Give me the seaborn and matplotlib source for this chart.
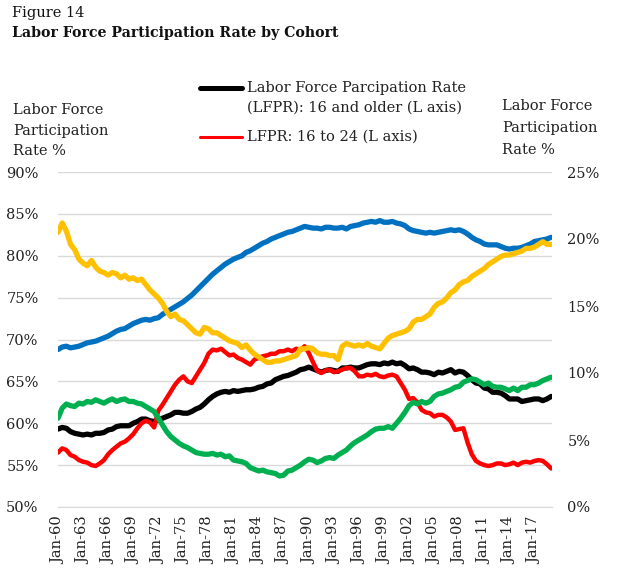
import numpy as np
import pandas as pd
import matplotlib.pyplot as plt
from matplotlib.lines import Line2D
import seaborn as sns

# semiannual observations, Jan-1960 .. Jan-2019
dates = np.arange(1960, 2019.01, 0.5)

# LFPR 16 and older (left axis)
lfpr_16_older = [
    59.3, 59.5, 59.4, 59.0, 58.8, 58.7, 58.6, 58.7, 58.6, 58.8, 58.8, 58.9, 59.2, 59.3, 59.6, 59.7, 59.7, 59.7, 60.0, 60.2,
    60.5, 60.5, 60.3, 60.2, 60.4, 60.6, 60.8, 61.0, 61.3, 61.3, 61.2, 61.2, 61.4, 61.7, 61.9, 62.3, 62.8, 63.2, 63.5, 63.7,
    63.8, 63.7, 63.9, 63.8, 63.9, 64.0, 64.0, 64.1, 64.3, 64.4, 64.7, 64.8, 65.2, 65.4, 65.6, 65.7, 65.9, 66.1, 66.4, 66.5,
    66.7, 66.5, 66.3, 66.1, 66.3, 66.4, 66.3, 66.2, 66.6, 66.6, 66.7, 66.6, 66.6, 66.8, 67.0, 67.1, 67.1, 67.0, 67.2, 67.1,
    67.3, 67.1, 67.2, 66.9, 66.5, 66.6, 66.4, 66.1, 66.1, 66.0, 65.8, 66.1, 66.0, 66.2, 66.4, 66.0, 66.2, 66.1, 65.7, 65.2,
    64.8, 64.7, 64.2, 64.1, 63.7, 63.7, 63.6, 63.3, 62.9, 62.9, 62.9, 62.6, 62.7, 62.8, 62.9, 62.9, 62.7, 62.9, 63.2,
]

# LFPR 16 to 24 (left axis)
lfpr_16_24 = [
    56.5, 57.0, 56.8, 56.2, 56.0, 55.6, 55.4, 55.3, 55.0, 54.9, 55.2, 55.6, 56.3, 56.8, 57.2, 57.6, 57.8, 58.2, 58.7, 59.4,
    60.0, 60.3, 60.1, 59.5, 61.5, 62.2, 63.0, 63.8, 64.6, 65.2, 65.6, 65.0, 64.8, 65.6, 66.4, 67.2, 68.3, 68.8, 68.7, 68.9,
    68.5, 68.1, 68.2, 67.8, 67.6, 67.3, 67.0, 67.6, 67.8, 68.0, 68.1, 68.3, 68.3, 68.6, 68.6, 68.8, 68.6, 68.9, 68.7, 69.2,
    68.4, 67.3, 66.3, 66.0, 66.3, 66.4, 66.1, 66.2, 66.4, 66.6, 66.6, 66.2, 65.6, 65.6, 65.8, 65.7, 65.9, 65.6, 65.5, 65.7,
    65.8, 65.6, 64.8, 64.0, 62.9, 63.0, 62.5, 61.6, 61.3, 61.2, 60.8, 61.0, 61.0, 60.7, 60.2, 59.2, 59.3, 59.4, 57.7, 56.3,
    55.5, 55.2, 55.0, 54.9, 55.0, 55.2, 55.2, 55.0, 55.1, 55.3, 55.0, 55.3, 55.4, 55.3, 55.5, 55.6, 55.5, 55.1, 54.6,
]

# LFPR 25 to 54 (left axis)
lfpr_25_54 = [
    68.8, 69.1, 69.2, 69.0, 69.1, 69.2, 69.4, 69.6, 69.7, 69.8, 70.0, 70.2, 70.4, 70.7, 71.0, 71.2, 71.3, 71.6, 71.9, 72.1,
    72.3, 72.4, 72.3, 72.5, 72.6, 73.0, 73.3, 73.6, 73.9, 74.2, 74.5, 74.9, 75.3, 75.8, 76.3, 76.8, 77.3, 77.8, 78.2, 78.6,
    79.0, 79.3, 79.6, 79.8, 80.0, 80.4, 80.6, 80.9, 81.2, 81.5, 81.7, 82.0, 82.2, 82.4, 82.6, 82.8, 82.9, 83.1, 83.3, 83.5,
    83.4, 83.3, 83.3, 83.2, 83.4, 83.4, 83.3, 83.3, 83.4, 83.2, 83.5, 83.6, 83.7, 83.9, 84.0, 84.1, 84.0, 84.2, 84.0, 84.0,
    84.1, 83.9, 83.8, 83.6, 83.2, 83.0, 82.9, 82.8, 82.7, 82.8, 82.7, 82.8, 82.9, 83.0, 83.1, 83.0, 83.1, 82.9, 82.6, 82.2,
    81.9, 81.7, 81.4, 81.3, 81.3, 81.3, 81.1, 80.9, 80.8, 80.9, 80.9, 81.0, 81.2, 81.4, 81.7, 81.8, 81.9, 82.0, 82.2,
]

# LFPR 55 to 64 (left axis)
lfpr_55_64 = [
    60.6, 61.8, 62.3, 62.1, 62.0, 62.4, 62.3, 62.6, 62.5, 62.8, 62.6, 62.4, 62.7, 62.9, 62.6, 62.8, 62.9, 62.6, 62.6, 62.4,
    62.3, 62.0, 61.7, 61.4, 60.6, 59.8, 59.0, 58.4, 58.0, 57.6, 57.3, 57.1, 56.8, 56.5, 56.4, 56.3, 56.3, 56.4, 56.2, 56.3,
    56.0, 56.1, 55.6, 55.5, 55.4, 55.2, 54.7, 54.5, 54.3, 54.4, 54.2, 54.1, 54.0, 53.7, 53.8, 54.3, 54.4, 54.7, 55.0, 55.4,
    55.7, 55.6, 55.3, 55.5, 55.8, 55.9, 55.8, 56.2, 56.5, 56.8, 57.3, 57.7, 58.0, 58.3, 58.6, 59.0, 59.3, 59.4, 59.4, 59.6,
    59.4, 60.0, 60.6, 61.3, 62.1, 62.5, 62.3, 62.6, 62.4, 62.6, 63.2, 63.5, 63.6, 63.8, 64.0, 64.3, 64.4, 64.9, 65.1, 65.3,
    65.2, 64.9, 64.6, 64.8, 64.4, 64.3, 64.3, 64.1, 63.9, 64.2, 63.9, 64.3, 64.3, 64.6, 64.6, 64.8, 65.1, 65.3, 65.5,
]

# LFPR 65 and older (right axis)
lfpr_65_older = [
    20.5, 21.2, 20.6, 19.6, 19.2, 18.5, 18.2, 18.0, 18.4, 17.9, 17.6, 17.5, 17.3, 17.5, 17.4, 17.1, 17.3, 17.0, 17.1, 16.9,
    17.0, 16.6, 16.2, 15.9, 15.6, 15.2, 14.6, 14.2, 14.4, 14.0, 13.9, 13.6, 13.3, 13.0, 12.9, 13.4, 13.3, 13.0, 13.0, 12.8,
    12.6, 12.4, 12.3, 12.2, 11.9, 12.1, 11.7, 11.4, 11.2, 11.0, 10.8, 10.8, 10.9, 10.9, 11.0, 11.1, 11.2, 11.3, 11.8, 11.8,
    11.9, 11.8, 11.5, 11.4, 11.4, 11.3, 11.3, 11.0, 12.0, 12.2, 12.1, 12.0, 12.1, 12.0, 12.2, 12.0, 11.9, 11.8, 12.2, 12.6,
    12.8, 12.9, 13.0, 13.1, 13.3, 13.8, 14.0, 14.0, 14.2, 14.4, 14.9, 15.2, 15.3, 15.6, 16.0, 16.2, 16.6, 16.8, 16.9, 17.2,
    17.4, 17.6, 17.8, 18.1, 18.3, 18.5, 18.7, 18.8, 18.8, 18.9, 19.0, 19.1, 19.3, 19.3, 19.4, 19.6, 19.8, 19.6, 19.6,
]

tick_years = list(range(1960, 2018, 3))
tick_labels = [f"Jan-{y % 100:02d}" for y in tick_years]
left_ticks = [50, 55, 60, 65, 70, 75, 80, 85, 90]
right_ticks = [0, 5, 10, 15, 20, 25]

df = pd.DataFrame({
    "date": dates,
    "all": lfpr_16_older,
    "young": lfpr_16_24,
    "prime": lfpr_25_54,
    "older": lfpr_55_64,
    "senior": lfpr_65_older,
})

sns.set_style("white")
plt.rcParams["font.family"] = ["DejaVu Serif"]
FS = 10.5
GRID = "#d9d9d9"

W, H = 618, 569
fig = plt.figure(figsize=(W / 100, H / 100), dpi=100)
ax = fig.add_axes([58 / W, 62 / H, 494 / W, 335 / H])

# left axis series, drawn in excel series order
sns.lineplot(data=df, x="date", y="all", color="black", lw=3.8, ax=ax)
sns.lineplot(data=df, x="date", y="young", color="#ff0000", lw=3.2, ax=ax)
sns.lineplot(data=df, x="date", y="prime", color="#0070c0", lw=3.8, ax=ax)
sns.lineplot(data=df, x="date", y="older", color="#00b050", lw=3.8, ax=ax)

ax2 = ax.twinx()
sns.lineplot(data=df, x="date", y="senior", color="#ffc000", lw=3.8, ax=ax2)

ax.set_xlim(1960, 2019.1)
ax.set_ylim(50, 90)
ax2.set_ylim(0, 25)

ax.set_yticks(left_ticks)
ax.set_yticklabels([f"{v}%" for v in left_ticks], fontsize=FS, color="#222222")
ax2.set_yticks(right_ticks)
ax2.set_yticklabels([f"{v}%" for v in right_ticks], fontsize=FS, color="#222222")
ax.set_xticks(tick_years)
ax.set_xticklabels(tick_labels, rotation=90, fontsize=FS, color="#222222")

ax.grid(axis="y", color=GRID, lw=1)
ax.set_axisbelow(True)
ax2.grid(False)
for a in (ax, ax2):
    a.set_xlabel("")
    a.set_ylabel("")
    for s in ("left", "right", "top"):
        a.spines[s].set_visible(False)
ax.spines["bottom"].set_color(GRID)
ax2.spines["bottom"].set_visible(False)
ax.tick_params(axis="x", direction="out", length=5, color=GRID, pad=2)
ax.tick_params(axis="y", length=0, pad=14)
ax2.tick_params(axis="y", length=0, pad=11)


def fy(y):
    return 1 - y / H


# titles
fig.text(12 / W, fy(13), "Figure 14", fontsize=FS, va="center", color="#111111")
fig.text(12 / W, fy(33), "Labor Force Participation Rate by Cohort", fontsize=10.2,
         fontweight="bold", va="center", color="#111111")

# axis titles
for i, line in enumerate(["Labor Force", "Participation", "Rate %"]):
    fig.text(13 / W, fy(110 + 20.5 * i), line, fontsize=FS, va="center", color="#222222")
    fig.text(502 / W, fy(106 + 22 * i), line, fontsize=FS, va="center", color="#222222")

# legend
fig.add_artist(Line2D([200 / W, 242 / W], [fy(88), fy(88)], color="black", lw=3.6,
                      solid_capstyle="round", transform=fig.transFigure))
fig.add_artist(Line2D([200 / W, 242 / W], [fy(137), fy(137)], color="#ff0000", lw=2.2,
                      transform=fig.transFigure))
fig.text(247 / W, fy(88), "Labor Force Parcipation Rate", fontsize=FS, va="center", color="#222222")
fig.text(247 / W, fy(108), "(LFPR): 16 and older (L axis)", fontsize=FS, va="center", color="#222222")
fig.text(247 / W, fy(137), "LFPR: 16 to 24 (L axis)", fontsize=FS, va="center", color="#222222")

fig.savefig("out.png", dpi=100)
